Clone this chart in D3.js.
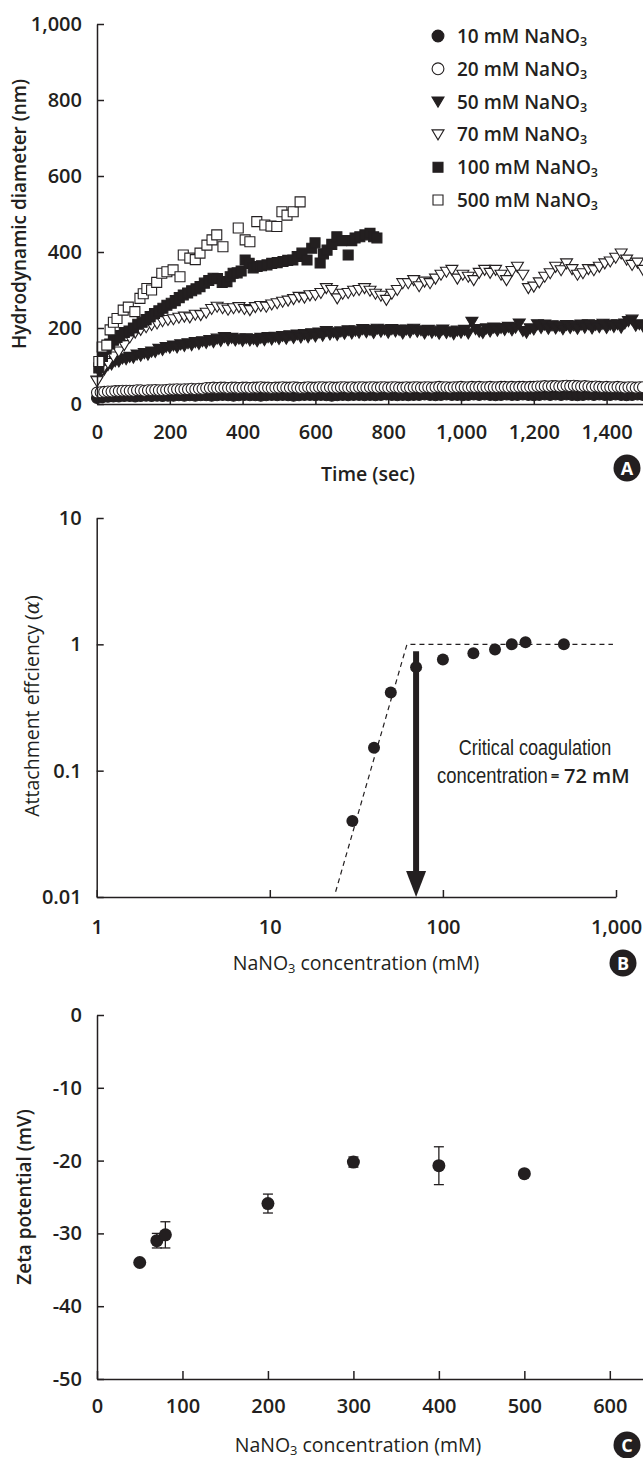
<!DOCTYPE html>
<html><head><meta charset="utf-8">
<script src="https://cdn.jsdelivr.net/npm/d3@7"></script>
<style>body{margin:0;background:#fff} svg{display:block}</style>
</head><body><svg id="c" width="643" height="1458"></svg>
<script>
// ---------- Panel A data (hydrodynamic diameter, nm) ----------
// evenly sampled series: step (sec) and values
const t10Step = 15;
const d10 = [16,18,19,20,20,21,21,20,21,22, 21,22,21,22,22,23,22,23,22,23,
  23,22,23,24,23,22,23,24,23,23, 22,23,24,23,24,23,22,23,24,24,
  23,24,23,22,23,24,23,24,24,23, 24,23,24,25,24,23,24,23,24,24,
  25,24,23,24,25,24,24,23,24,25, 24,25,24,23,24,25,24,24,25,24,
  23,24,25,24,25,24,25,24,23,24, 25,24,25,24,24,25,24,23,24,25, 24];
const t20Step = 10;
const d20 = [30,31,32,33,33,34,34,35,35,35, 35,36,36,35,36,36,37,36,36,37,
  38,38,39,38,39,39,40,39,40,40, 42,42,43,42,43,43,42,43,43,42,
  43,43,42,43,43,44,43,43,42,43, 43,44,43,43,44,43,42,43,44,43,
  43,44,44,43,44,43,43,44,44,43, 44,43,44,44,43,44,44,43,44,44,
  43,44,44,43,43,44,43,44,44,43, 44,44,43,44,45,44,44,43,44,44,
  45,44,44,45,44,45,44,44,45,44, 44,45,45,44,45,44,45,45,44,45,
  45,46,46,47,46,47,47,46,47,48, 47,48,47,46,47,46,45,46,45,44,
  45,44,44,45,44,43,44,44,43,44, 44];
const t50Step = 10;
const d50 = [62,80,90,102,104,113,112,120,118,124, 122,130,127,134,130,138,137,145,142,150,
  148,154,149,157,153,160,155,163,158,165, 161,168,163,172,166,176,168,174,167,172,
  166,173,167,171,165,174,168,176,170,177, 171,179,172,181,174,183,175,184,176,186,
  178,188,180,192,183,189,182,191,185,194, 186,193,188,197,189,195,187,198,190,196,
  188,197,191,195,186,196,189,198,190,194, 186,195,188,193,185,196,187,191,184,193,
  188,195,186,216,197,190,187,199,191,201, 193,200,195,203,194,201,212,192,188,199,
  196,210,200,209,198,207,199,206,197,208, 200,207,198,209,201,210,199,208,202,211,
  200,209,203,210,201,212,218,222,206,210, 204];
const t70Step = 15;
const d70 = [60,90,108,125,138,155,175,188,195,202, 208,212,218,221,223,227,230,228,235,234,
  240,250,256,252,248,252,255,250,247,255, 258,256,262,265,269,272,276,282,280,286,
  287,292,305,300,278,290,292,298,300,305, 298,290,285,274,290,300,318,318,326,310,
  322,318,330,340,348,353,330,340,335,326, 345,353,345,353,340,326,350,361,340,305,
  309,320,335,344,361,352,370,355,340,344, 355,352,361,370,375,385,396,380,366,372, 353];
// irregular series: [time, diameter]
const d100 = [[5,95],[15,125],[25,145],[35,158],[45,168],[55,175],[63,180],[75,188],[88,192],[100,200],
  [112,210],[124,215],[135,222],[146,230],[158,238],[170,245],[181,252],[192,260],[204,265],[215,272],
  [226,280],[237,287],[249,292],[260,298],[272,303],[283,309],[295,318],[307,325],[319,331],[331,330],
  [344,320],[357,322],[366,335],[374,344],[385,345],[396,350],[407,379],[418,370],[429,358],[440,362],
  [452,364],[467,366],[480,370],[495,372],[511,375],[524,378],[538,379],[550,388],[563,397],[577,379],
  [590,410],[599,424],[613,371],[622,395],[632,405],[645,420],[659,440],[672,430],[690,392],[700,430],
  [709,437],[722,440],[736,445],[750,449],[760,440],[769,437]];
const d500 = [[5,112],[14,150],[27,155],[36,195],[45,215],[55,225],[72,247],[86,255],[104,243],[118,278],
  [127,290],[137,304],[150,300],[164,320],[178,344],[192,348],[209,353],[228,335],[237,392],[255,384],
  [270,380],[283,397],[302,418],[316,432],[329,445],[346,414],[388,463],[407,432],[420,427],[439,480],
  [461,471],[478,468],[494,467],[508,506],[522,497],[539,506],[558,532]];
const legendLabels = ["10 mM ", "20 mM ", "50 mM ", "70 mM ", "100 mM ", "500 mM "];
const xTicksA = [0,200,400,600,800,1000,1200,1400];
const yTicksA = [0,200,400,600,800,1000];

// ---------- Panel B data (attachment efficiency) ----------
const bConc = [30, 40, 50, 70, 100, 150, 200, 250, 300, 500];
const bAlpha = [0.040, 0.152, 0.416, 0.66, 0.76, 0.85, 0.91, 1.0, 1.04, 1.0];
const fitConc = [24, 62, 960];
const fitAlpha = [0.011, 1, 1];
const cccArrowConc = 70, cccArrowTop = 0.88;
const xTicksB = [1, 10, 100, 1000];
const xTickLabelsB = ["1", "10", "100", "1,000"];
const yTicksB = [0.01, 0.1, 1, 10];
const yTickLabelsB = ["0.01", "0.1", "1", "10"];

// ---------- Panel C data (zeta potential) ----------
const cConc = [50, 70, 80, 200, 300, 400, 500];
const cZeta = [-34.0, -31.0, -30.2, -25.9, -20.2, -20.7, -21.8];
const cErr = [0, 1.0, 1.8, 1.3, 0.7, 2.6, 0.3];
const xTicksC = [0,100,200,300,400,500,600];
const yTicksC = [0,-10,-20,-30,-40,-50];

// ---------- drawing ----------
const INK = "#231f20";
const FONT = "'Open Sans', 'DejaVu Sans', sans-serif";
const svg = d3.select("#c");

function styleAxis(g, weight) {
  g.attr("font-family", FONT).attr("font-size", 20).attr("font-weight", weight);
  g.select(".domain").attr("stroke", INK).attr("stroke-width", 1.5);
  g.selectAll(".tick line").attr("stroke", INK).attr("stroke-width", 1.5);
  g.selectAll(".tick text").attr("fill", INK);
}
function nano3(t, before, after) {
  t.append("tspan").text(before + "NaNO");
  t.append("tspan").attr("font-size", "0.66em").attr("dy", 3).text("3");
  t.append("tspan").attr("dy", -3).text(after);
}
function badge(cx, cy, letter) {
  svg.append("circle").attr("cx", cx).attr("cy", cy).attr("r", 13.5).attr("fill", INK);
  svg.append("text").attr("x", cx).attr("y", cy + 6.5).attr("text-anchor", "middle")
    .attr("font-family", FONT).attr("font-weight", 700).attr("font-size", 18)
    .attr("fill", "#fff").text(letter);
}
function markerPath(type) {
  if (type === "circle") return d3.symbol(d3.symbolCircle, 95)();
  if (type === "square") return "M-5,-5H5V5H-5Z";
  return "M-6,-4.5L6,-4.5L0,5.5Z"; // triangle down
}
const series = [
  {pts: d10.map((v,i)=>[i*t10Step, v]), type:"circle", fill:true},
  {pts: d20.map((v,i)=>[i*t20Step, v]), type:"circle", fill:false},
  {pts: d50.map((v,i)=>[i*t50Step, v]), type:"tri", fill:true},
  {pts: d70.map((v,i)=>[i*t70Step, v]), type:"tri", fill:false},
  {pts: d100, type:"square", fill:true},
  {pts: d500, type:"square", fill:false}
];

// Panel A
const xA = d3.scaleLinear().domain([0,1500]).range([97,643]);
const yA = d3.scaleLinear().domain([0,1000]).range([404,24]);
const fmt = d3.format(",");
series.forEach(s => {
  svg.append("g").selectAll("path").data(s.pts).join("path")
    .attr("d", markerPath(s.type))
    .attr("transform", d => `translate(${xA(d[0])},${yA(d[1])})`)
    .attr("fill", s.fill ? INK : "#fff")
    .attr("stroke", INK).attr("stroke-width", 1.1);
});
svg.append("g").attr("transform", "translate(0,404)")
  .call(d3.axisBottom(xA).tickValues(xTicksA).tickFormat(fmt).tickSize(-7).tickSizeOuter(0).tickPadding(21))
  .call(g => styleAxis(g, 600));
svg.append("g").attr("transform", "translate(97,0)")
  .call(d3.axisLeft(yA).tickValues(yTicksA).tickFormat(fmt).tickSize(-7).tickSizeOuter(0).tickPadding(15))
  .call(g => styleAxis(g, 600));
svg.append("text").attr("transform", "translate(26,214) rotate(-90)").attr("text-anchor", "middle")
  .attr("font-family", FONT).attr("font-weight", 600).attr("font-size", 19).attr("fill", INK)
  .text("Hydrodynamic diameter (nm)");
svg.append("text").attr("x", 368).attr("y", 481).attr("text-anchor", "middle")
  .attr("font-family", FONT).attr("font-weight", 600).attr("font-size", 19.5).attr("fill", INK)
  .text("Time (sec)");
// legend
const legY = d3.scalePoint().domain(legendLabels).range([36, 200]);
legendLabels.forEach((lab, i) => {
  const s = series[i];
  svg.append("path").attr("d", s.type === "circle" ? d3.symbol(d3.symbolCircle, 110)() : markerPath(s.type))
    .attr("transform", `translate(438,${legY(lab)})`)
    .attr("fill", s.fill ? INK : "#fff").attr("stroke", INK).attr("stroke-width", 1.1);
  const t = svg.append("text").attr("x", 457).attr("y", legY(lab) + 7)
    .attr("font-family", FONT).attr("font-weight", 600).attr("font-size", 19).attr("fill", INK);
  nano3(t, lab, "");
});
badge(627, 468, "A");

// Panel B
const xB = d3.scaleLog().domain([1,1000]).range([96.7,616]);
const yB = d3.scaleLog().domain([0.01,10]).range([897,518]);
svg.append("path")
  .attr("d", d3.line().x(d => xB(d[0])).y(d => yB(d[1]))(fitConc.map((c,i)=>[c, fitAlpha[i]])))
  .attr("fill", "none").attr("stroke", INK).attr("stroke-width", 1.2).attr("stroke-dasharray", "5,4");
svg.append("g").selectAll("circle").data(bConc).join("circle")
  .attr("cx", d => xB(d)).attr("cy", (d,i) => yB(bAlpha[i])).attr("r", 6).attr("fill", INK);
// CCC arrow
const ax = xB(cccArrowConc), ay0 = yB(cccArrowTop), ay1 = yB(0.01);
svg.append("line").attr("x1", ax).attr("x2", ax).attr("y1", ay0).attr("y2", ay1 - 22)
  .attr("stroke", INK).attr("stroke-width", 6);
svg.append("path").attr("d", `M${ax-10},${ay1-26}L${ax+10},${ay1-26}L${ax},${ay1}Z`).attr("fill", INK);
svg.append("g").attr("transform", "translate(0,897)")
  .call(d3.axisBottom(xB).tickValues(xTicksB).tickFormat((d,i) => xTickLabelsB[i]).tickSize(-7).tickSizeOuter(0).tickPadding(23))
  .call(g => styleAxis(g, 600));
svg.append("g").attr("transform", "translate(96.7,0)")
  .call(d3.axisLeft(yB).tickValues(yTicksB).tickFormat((d,i) => yTickLabelsB[i]).tickSize(-7).tickSizeOuter(0).tickPadding(15))
  .call(g => styleAxis(g, 600));
const ylB = svg.append("text").attr("transform", "translate(39,706) rotate(-90)").attr("text-anchor", "middle")
  .attr("font-family", FONT).attr("font-weight", 400).attr("font-size", 19.5).attr("fill", INK);
ylB.append("tspan").text("Attachment effciency (");
ylB.append("tspan").attr("font-family", "'DejaVu Serif', serif").attr("font-style", "italic").text("α");
ylB.append("tspan").text(")");
const xlB = svg.append("text").attr("x", 356).attr("y", 970).attr("text-anchor", "middle")
  .attr("font-family", FONT).attr("font-weight", 400).attr("font-size", 19.5).attr("fill", INK);
nano3(xlB, "", " concentration (mM)");
// annotation (condensed face emulated with a horizontal scale)
const NARROW = "'Liberation Sans', Arial, sans-serif";
svg.append("text").attr("transform", "translate(535,755) scale(0.82,1)").attr("text-anchor", "middle")
  .attr("font-family", NARROW).attr("font-size", 22).attr("fill", INK).text("Critical coagulation");
svg.append("text").attr("transform", "translate(437,783) scale(0.84,1)")
  .attr("font-family", NARROW).attr("font-size", 22).attr("fill", INK).text("concentration");
svg.append("text").attr("x", 555).attr("y", 781).attr("text-anchor", "middle")
  .attr("font-family", FONT).attr("font-weight", 700).attr("font-size", 15).attr("fill", INK).text("=");
svg.append("text").attr("x", 564).attr("y", 783)
  .attr("font-family", FONT).attr("font-weight", 600).attr("font-size", 20).attr("fill", INK).text("72 mM");
badge(623, 963, "B");

// Panel C
const xC = d3.scaleLinear().domain([0,640]).range([97,644]);
const yC = d3.scaleLinear().domain([-50,0]).range([1379,1015]);
const gE = svg.append("g").attr("stroke", INK).attr("stroke-width", 1.3);
cConc.forEach((c, i) => {
  if (cErr[i] <= 0) return;
  const x = xC(c), y1 = yC(cZeta[i] - cErr[i]), y2 = yC(cZeta[i] + cErr[i]);
  gE.append("line").attr("x1", x).attr("x2", x).attr("y1", y1).attr("y2", y2);
  gE.append("line").attr("x1", x-5).attr("x2", x+5).attr("y1", y1).attr("y2", y1);
  gE.append("line").attr("x1", x-5).attr("x2", x+5).attr("y1", y2).attr("y2", y2);
});
svg.append("g").selectAll("circle").data(cConc).join("circle")
  .attr("cx", d => xC(d)).attr("cy", (d,i) => yC(cZeta[i])).attr("r", 6.5).attr("fill", INK);
svg.append("g").attr("transform", "translate(0,1379)")
  .call(d3.axisBottom(xC).tickValues(xTicksC).tickSize(-8).tickSizeOuter(0).tickPadding(20))
  .call(g => styleAxis(g, 600));
svg.append("g").attr("transform", "translate(97,0)")
  .call(d3.axisLeft(yC).tickValues(yTicksC).tickFormat(d => d < 0 ? "-" + Math.abs(d) : String(d)).tickSize(-7).tickSizeOuter(0).tickPadding(15))
  .call(g => styleAxis(g, 600));
svg.append("text").attr("transform", "translate(31,1197) rotate(-90)").attr("text-anchor", "middle")
  .attr("font-family", FONT).attr("font-weight", 600).attr("font-size", 19).attr("fill", INK)
  .text("Zeta potential (mV)");
const xlC = svg.append("text").attr("x", 358).attr("y", 1452).attr("text-anchor", "middle")
  .attr("font-family", FONT).attr("font-weight", 400).attr("font-size", 19.5).attr("fill", INK);
nano3(xlC, "", " concentration (mM)");
badge(627, 1445, "C");
</script></body></html>
